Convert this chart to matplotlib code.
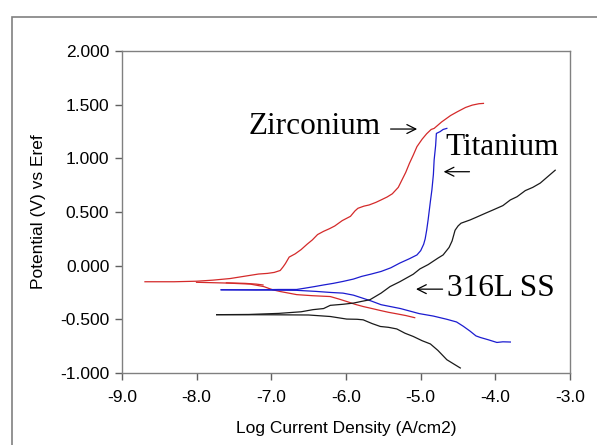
import matplotlib.pyplot as plt
from matplotlib.patches import Rectangle

# Zirconium (red)
zr_an_x = [-8.69, -8.3, -8.0, -7.78, -7.55, -7.37, -7.17, -7.05, -6.96, -6.88, -6.84, -6.81, -6.76, -6.68,
           -6.6, -6.52, -6.45, -6.38, -6.30, -6.22, -6.15, -6.05, -5.94, -5.88, -5.84, -5.76, -5.69, -5.60,
           -5.53, -5.45, -5.38, -5.30, -5.25, -5.20, -5.15, -5.10, -5.05, -4.98, -4.92, -4.86, -4.82, -4.77,
           -4.72, -4.6, -4.51, -4.4, -4.31, -4.22, -4.16]
zr_an_y = [-0.150, -0.150, -0.145, -0.135, -0.12, -0.10, -0.078, -0.072, -0.063, -0.045, -0.01, 0.02, 0.08, 0.11,
           0.15, 0.20, 0.24, 0.29, 0.32, 0.345, 0.37, 0.42, 0.46, 0.51, 0.535, 0.555, 0.566, 0.59,
           0.613, 0.64, 0.67, 0.73, 0.80, 0.87, 0.955, 1.03, 1.11, 1.18, 1.23, 1.27, 1.28, 1.31,
           1.34, 1.40, 1.435, 1.475, 1.497, 1.51, 1.513]
zr_ca_x = [-8.0, -7.6, -7.28, -7.1, -6.98, -6.88, -6.66, -6.45, -6.21, -6.1, -5.99, -5.88, -5.77, -5.65,
           -5.54, -5.43, -5.32, -5.2, -5.08]
zr_ca_y = [-0.155, -0.162, -0.172, -0.195, -0.225, -0.241, -0.270, -0.280, -0.288, -0.31, -0.334, -0.36, -0.381, -0.40,
           -0.418, -0.435, -0.449, -0.465, -0.485]
zr_tail_x = [-7.6, -7.35, -7.2, -7.11]
zr_tail_y = [-0.16, -0.165, -0.172, -0.18]

# Titanium (blue)
ti_an_x = [-7.67, -7.2, -6.9, -6.66, -6.55, -6.42, -6.30, -6.17, -6.04, -5.9, -5.79, -5.66, -5.53, -5.40,
           -5.28, -5.15, -5.05, -5.0, -4.96, -4.94, -4.92, -4.90, -4.87, -4.85, -4.83, -4.82, -4.80, -4.79,
           -4.74, -4.70, -4.65]
ti_an_y = [-0.225, -0.225, -0.222, -0.222, -0.21, -0.195, -0.18, -0.165, -0.147, -0.125, -0.10, -0.078, -0.054, -0.02,
           0.024, 0.065, 0.10, 0.14, 0.20, 0.25, 0.33, 0.43, 0.60, 0.706, 0.85, 0.985, 1.12, 1.233,
           1.25, 1.27, 1.28]
ti_ca_x = [-7.67, -7.0, -6.66, -6.4, -6.2, -6.04, -5.9, -5.79, -5.66, -5.53, -5.27, -5.02, -4.83, -4.65,
           -4.52, -4.43, -4.34, -4.26, -4.20, -4.10, -3.98, -3.90, -3.80]
ti_ca_y = [-0.225, -0.228, -0.23, -0.24, -0.25, -0.256, -0.275, -0.30, -0.33, -0.364, -0.40, -0.447, -0.47, -0.50,
           -0.525, -0.565, -0.61, -0.655, -0.67, -0.69, -0.716, -0.71, -0.712]

# 316L SS (black)
ss_an_x = [-7.73, -7.3, -6.9, -6.6, -6.44, -6.3, -6.21, -6.04, -5.90, -5.79, -5.68, -5.53, -5.41, -5.28,
           -5.10, -5.01, -4.90, -4.77, -4.70, -4.62, -4.58, -4.54, -4.50, -4.46, -4.34, -4.26, -4.13, -4.03,
           -3.90, -3.80, -3.71, -3.60, -3.50, -3.40, -3.30, -3.20]
ss_an_y = [-0.457, -0.455, -0.445, -0.43, -0.41, -0.40, -0.37, -0.36, -0.349, -0.333, -0.318, -0.256, -0.195, -0.15,
           -0.08, -0.03, 0.01, 0.07, 0.10, 0.17, 0.23, 0.33, 0.37, 0.396, 0.426, 0.45, 0.49, 0.52,
           0.56, 0.613, 0.643, 0.70, 0.73, 0.77, 0.83, 0.89]
ss_ca_x = [-7.73, -7.0, -6.5, -6.21, -5.99, -5.85, -5.77, -5.65, -5.54, -5.43, -5.32, -5.21, -5.10, -4.98,
           -4.87, -4.77, -4.65, -4.55, -4.47]
ss_ca_y = [-0.457, -0.458, -0.46, -0.474, -0.498, -0.50, -0.505, -0.54, -0.567, -0.575, -0.59, -0.63, -0.66, -0.70,
           -0.73, -0.79, -0.877, -0.92, -0.954]

x_ticks = [-9.0, -8.0, -7.0, -6.0, -5.0, -4.0, -3.0]
y_ticks = [-1.0, -0.5, 0.0, 0.5, 1.0, 1.5, 2.0]

red = '#d42a2a'
blue = '#1c1cd0'
black = '#1a1a1a'

fig = plt.figure(figsize=(5.97, 4.45), dpi=100)
ax = fig.add_axes([0.204, 0.162, 0.751, 0.723])

lw = 0.9
ax.plot(zr_an_x, zr_an_y, color=red, lw=lw)
ax.plot(zr_ca_x, zr_ca_y, color=red, lw=lw)
ax.plot(zr_tail_x, zr_tail_y, color=red, lw=lw)
ax.plot(ti_an_x, ti_an_y, color=blue, lw=lw)
ax.plot(ti_ca_x, ti_ca_y, color=blue, lw=lw)
ax.plot(ss_an_x, ss_an_y, color=black, lw=lw)
ax.plot(ss_ca_x, ss_ca_y, color=black, lw=lw)

ax.set_xlim(-9, -3)
ax.set_ylim(-1, 2)
ax.set_xticks(x_ticks)
ax.set_xticklabels(['%.1f' % v for v in x_ticks])
ax.set_yticks(y_ticks)
ax.set_yticklabels(['%.3f' % v for v in y_ticks])

for s in ax.spines.values():
    s.set_color('#808080')
    s.set_linewidth(1.0)
ax.tick_params(direction='out', length=5, width=1, color='#606060',
               labelsize=12.5, labelcolor='black', pad=4)
ax.tick_params(axis='x', pad=7)
for lab in ax.get_xticklabels() + ax.get_yticklabels():
    lab.set_family('Liberation Sans')

ax.set_xlabel('Log Current Density (A/cm2)', family='Liberation Sans', fontsize=12.5, labelpad=12)
ax.set_ylabel('Potential (V) vs Eref', family='Liberation Sans', fontsize=12.5, labelpad=10)

serif = dict(family='Liberation Serif', fontsize=22.5, color='black')
arrow = dict(arrowstyle='->', color='black', lw=0.9, mutation_scale=16)
ax.text(-7.30, 1.30, 'Zirconium', ha='left', va='center', **serif)
ax.annotate('', xy=(-5.01, 1.274), xytext=(-5.44, 1.274), arrowprops=arrow)
ax.text(-4.67, 1.106, 'Titanium', ha='left', va='center', **serif)
ax.annotate('', xy=(-4.73, 0.876), xytext=(-4.31, 0.876), arrowprops=arrow)
ax.text(-4.65, -0.217, '316L SS', ha='left', va='center', **serif)
ax.annotate('', xy=(-5.10, -0.219), xytext=(-4.67, -0.219), arrowprops=arrow)

fig.patches.append(Rectangle((0.020, -0.1), 1.2, 1.062, transform=fig.transFigure,
                             fill=False, edgecolor='#808080', lw=1.2))

fig.savefig('out.png', dpi=100)
